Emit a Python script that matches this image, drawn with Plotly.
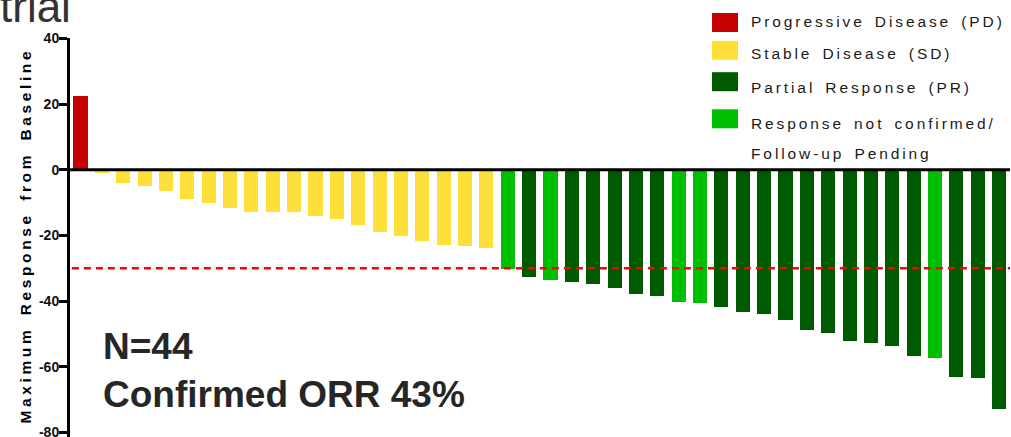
import json
import plotly.graph_objects as go

# Best overall response per patient, sorted (waterfall order)
patients = list(range(1, 45))
best_change = [
    22.5, -1.0, -4.1, -5.1, -6.5, -8.9, -10.0, -11.7, -12.9, -12.9,
    -12.9, -14.0, -15.0, -16.9, -19.0, -20.1, -21.8, -22.9, -23.1, -23.9,
    -30.1, -32.8, -33.5, -34.3, -34.9, -35.9, -37.8, -38.5, -40.4, -40.5,
    -41.9, -43.4, -44.0, -45.8, -48.8, -49.8, -52.3, -52.7, -53.7, -56.7,
    -57.3, -63.0, -63.5, -72.9,
]
response = (
    ["PD"] + ["SD"] * 19
    + ["UC", "PR", "UC", "PR", "PR", "PR", "PR", "PR", "UC", "UC",
       "PR", "PR", "PR", "PR", "PR", "PR", "PR", "PR", "PR", "PR",
       "UC", "PR", "PR", "PR"]
)

# Legend categories (each label may span several lines)
legend_codes = ["PD", "SD", "PR", "UC"]
legend_labels = [
    ["Progressive Disease (PD)"],
    ["Stable Disease (SD)"],
    ["Partial Response (PR)"],
    ["Response not confirmed/", "Follow-up Pending"],
]
colors = {"PD": "#C40000", "SD": "#FFE03A", "PR": "#005A00", "UC": "#00BE00"}

y_ticks = [40, 20, 0, -20, -40, -60, -80]
threshold = -30
n_total = 44
orr = 43

W, H = 1011, 437
ML, MT, MR, MB = 70, 38, 1, 0
PW, PH = W - ML - MR, H - MT - MB


def px(x):
    return (x - ML) / PW


def py(y):
    return (H - MB - y) / PH


FONT = "Arial, Liberation Sans, sans-serif"

fig = go.Figure()
fig.add_trace(go.Bar(
    x=[p - 1 for p in patients],
    y=best_change,
    width=0.66,
    marker=dict(color=[colors[r] for r in response], line=dict(width=0)),
    showlegend=False,
    hoverinfo="y",
))

shapes = [
    # 30% reduction threshold
    dict(type="line", xref="paper", yref="y", x0=0.002, x1=1.0,
         y0=threshold, y1=threshold,
         line=dict(color="#FF0000", width=2.5, dash="7px,5px")),
    # baseline
    dict(type="line", xref="paper", yref="y", x0=0, x1=1.0, y0=0, y1=0,
         line=dict(color="#000000", width=3)),
]

annotations = []
spacing = {}

# legend swatches and labels
sw_y = [22.5, 50.3, 81.7, 118.8]
lab_y = [21.3, 53.3, 87.7, 123.3]
LINE_STEP = 30
for code, lines, sy, ly in zip(legend_codes, legend_labels, sw_y, lab_y):
    shapes.append(dict(type="rect", xref="paper", yref="paper",
                       x0=px(712), x1=px(738), y0=py(sy - 9.5), y1=py(sy + 9.5),
                       fillcolor=colors[code], line=dict(width=0)))
    for k, line in enumerate(lines):
        spacing[len(annotations)] = 2.9
        annotations.append(dict(
            xref="paper", yref="paper", x=px(749), y=py(ly + k * LINE_STEP),
            xanchor="left", yanchor="middle", align="left", showarrow=False,
            text=line, font=dict(family=FONT, size=15.5, color="#1A1A1A"),
        ))

# axis title
spacing[len(annotations)] = 3.6
annotations.append(dict(
    xref="paper", yref="paper", x=px(25), y=py(236), textangle=-90,
    xanchor="center", yanchor="middle", showarrow=False,
    text="Maximum Response from Baseline",
    font=dict(family=FONT, size=15.5, color="#000000", weight=700),
))

# summary text
annotations.append(dict(
    xref="paper", yref="paper", x=px(101), y=py(346),
    xanchor="left", yanchor="middle", showarrow=False,
    text=f"N={n_total}",
    font=dict(family=FONT, size=37, color="#262626", weight=700),
))
annotations.append(dict(
    xref="paper", yref="paper", x=px(101), y=py(394),
    xanchor="left", yanchor="middle", showarrow=False,
    text=f"Confirmed ORR {orr}%",
    font=dict(family=FONT, size=37, color="#262626", weight=700),
))

# slide heading fragment
annotations.append(dict(
    xref="paper", yref="paper", x=px(73), y=py(7), xanchor="right",
    yanchor="middle", showarrow=False, text="trial",
    font=dict(family=FONT, size=44, color="#333333"),
))

fig.update_layout(
    width=W, height=H,
    margin=dict(l=ML, r=MR, t=MT, b=MB, pad=0),
    plot_bgcolor="white", paper_bgcolor="white",
    shapes=shapes, annotations=annotations,
    bargap=0,
    xaxis=dict(range=[-0.49, 43.51], visible=False, fixedrange=True),
    yaxis=dict(
        range=[-81.4, 40.1], tickvals=y_ticks, ticktext=[str(t) for t in y_ticks],
        showgrid=False, zeroline=False,
        showline=True, linecolor="black", linewidth=3,
        ticks="outside", ticklen=8, tickwidth=2.5, tickcolor="black",
        tickfont=dict(family=FONT, size=14, color="#111111", weight=700),
        ticklabelstandoff=-3, ticklabeloverflow="allow",
        automargin=False,
        fixedrange=True,
    ),
)

post = """
var gd = document.getElementById('{plot_id}');
var annSpacing = %s;
function spaceText() {
  gd.querySelectorAll('g.annotation').forEach(function (g) {
    var idx = g.getAttribute('data-index');
    if (annSpacing[idx] !== undefined) {
      var t = g.querySelector('text.annotation-text');
      if (t) {
        t.style.letterSpacing = annSpacing[idx] + 'px';
        t.style.wordSpacing = annSpacing[idx] + 'px';
      }
    }
  });
}
spaceText();
gd.on('plotly_afterplot', spaceText);
""" % json.dumps({str(k): v for k, v in spacing.items()})

fig.write_html("out.html", post_script=post)
